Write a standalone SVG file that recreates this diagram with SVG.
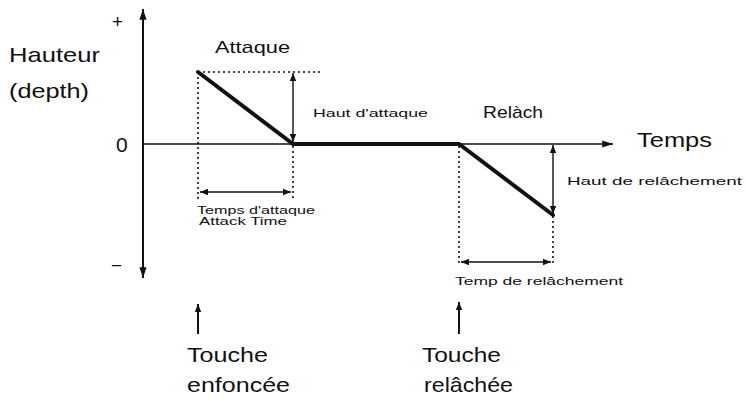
<svg xmlns="http://www.w3.org/2000/svg" width="746" height="404" viewBox="0 0 746 404">
<style>
text{font-family:"Liberation Sans",Arial,sans-serif;fill:#111}
.big{font-size:21px}
.mid{font-size:17px}
.sm{font-size:11px}
.ax{stroke:#111;stroke-width:2;fill:none}
.thin{stroke:#111;stroke-width:1.4;fill:none}
.dot{stroke:#111;stroke-width:1.6;stroke-dasharray:2 3;fill:none}
.env{stroke:#111;stroke-width:4;fill:none;stroke-linecap:round}
</style>
<defs>
<marker id="ah" viewBox="0 0 10 10" refX="10" refY="5" markerWidth="10" markerHeight="8" markerUnits="userSpaceOnUse" orient="auto-start-reverse">
<path d="M0,1 L10,5 L0,9 z" fill="#111"/>
</marker>
<marker id="ahb" viewBox="0 0 12 10" refX="12" refY="5" markerWidth="15" markerHeight="9" markerUnits="userSpaceOnUse" orient="auto-start-reverse">
<path d="M0,1 L12,5 L0,9 z" fill="#111"/>
</marker>
</defs>
<g id="connectors">
<line class="ax" x1="143" y1="146" x2="143" y2="9" marker-end="url(#ahb)"/>
<line class="ax" x1="143" y1="144" x2="143" y2="278" marker-end="url(#ahb)"/>
<line class="thin" x1="143" y1="144" x2="613" y2="144" marker-end="url(#ahb)"/>
<line class="dot" x1="198" y1="72" x2="323" y2="72"/>
<line class="dot" x1="198" y1="72" x2="198" y2="200"/>
<line class="dot" x1="293" y1="146" x2="293" y2="200"/>
<line class="thin" x1="200" y1="192" x2="291" y2="192" marker-start="url(#ah)" marker-end="url(#ah)"/>
<line class="thin" x1="293" y1="73" x2="293" y2="142" marker-start="url(#ah)" marker-end="url(#ah)"/>
<line class="dot" x1="459" y1="146" x2="459" y2="265"/>
<line class="dot" x1="553" y1="216" x2="553" y2="265"/>
<line class="thin" x1="461" y1="262" x2="551" y2="262" marker-start="url(#ah)" marker-end="url(#ah)"/>
<line class="thin" x1="553" y1="145" x2="553" y2="214" marker-start="url(#ah)" marker-end="url(#ah)"/>
<line class="ax" x1="198" y1="334" x2="198" y2="304" marker-end="url(#ah)"/>
<line class="ax" x1="459" y1="334" x2="459" y2="302" marker-end="url(#ah)"/>
</g>
<g id="envelope">
<polyline class="env" points="198,72 293,144 459,144 553,215"/>
</g>
<g id="axis-labels">
<text class="big" x="9" y="62" textLength="91" lengthAdjust="spacingAndGlyphs">Hauteur</text>
<text class="big" x="9" y="98" textLength="80" lengthAdjust="spacingAndGlyphs">(depth)</text>
<text x="112" y="28" style="font-size:19px">+</text>
<text x="111" y="272" style="font-size:19px">−</text>
<text class="big" x="116" y="152">0</text>
<text class="big" x="637" y="147" textLength="75" lengthAdjust="spacingAndGlyphs">Temps</text>
</g>
<g id="attack">
<text class="mid" x="215" y="53" textLength="75" lengthAdjust="spacingAndGlyphs">Attaque</text>
<text class="sm" x="313" y="117" textLength="115" lengthAdjust="spacingAndGlyphs">Haut d'attaque</text>
<text class="sm" x="197" y="214" textLength="118" lengthAdjust="spacingAndGlyphs">Temps d'attaque</text>
<text class="sm" x="199" y="225" textLength="88" lengthAdjust="spacingAndGlyphs">Attack Time</text>
</g>
<g id="release">
<text class="mid" x="483" y="118" textLength="60" lengthAdjust="spacingAndGlyphs">Relàch</text>
<text class="sm" x="567" y="185" textLength="175" lengthAdjust="spacingAndGlyphs">Haut de relâchement</text>
<text class="sm" x="455" y="285" textLength="168" lengthAdjust="spacingAndGlyphs">Temp de relâchement</text>
</g>
<g id="key-down">
<text class="big" x="187" y="362" textLength="81" lengthAdjust="spacingAndGlyphs">Touche</text>
<text class="big" x="187" y="392" textLength="103" lengthAdjust="spacingAndGlyphs">enfoncée</text>
</g>
<g id="key-up">
<text class="big" x="422" y="362" textLength="79" lengthAdjust="spacingAndGlyphs">Touche</text>
<text class="big" x="424" y="392" textLength="89" lengthAdjust="spacingAndGlyphs">relâchée</text>
</g>
</svg>
